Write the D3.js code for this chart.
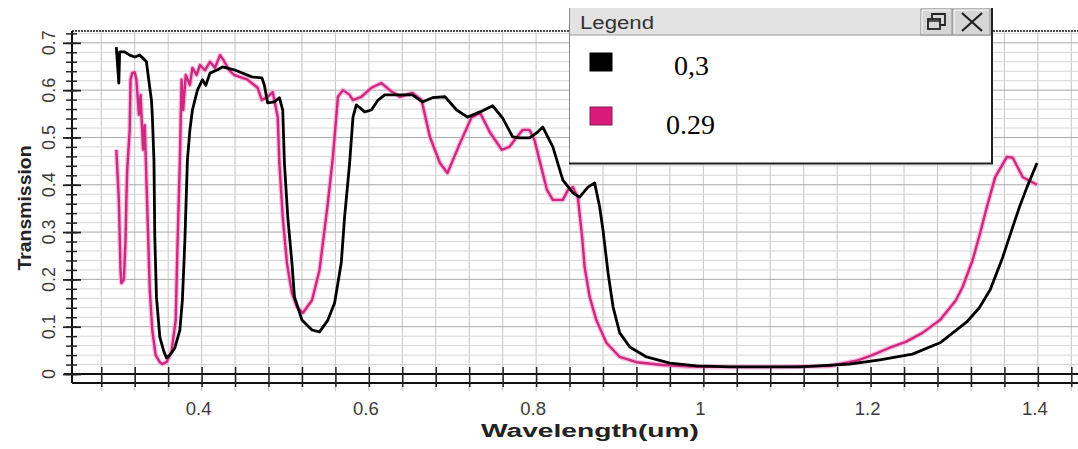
<!DOCTYPE html>
<html>
<head>
<meta charset="utf-8">
<script src="https://cdn.jsdelivr.net/npm/d3@7"></script>
<style>
body{margin:0;background:#fff;}
</style>
</head>
<body>
<svg id="chart"></svg>
<script>
// series 0,3 (black)
var wl03 = [0.298,0.301,0.302,0.308,0.314,0.320,0.326,0.332,0.334,0.338,0.340,0.341,0.343,0.344,0.346,0.350,0.355,0.358,0.362,0.368,
  0.374,0.377,0.380,0.383,0.386,0.389,0.395,0.401,0.405,0.410,0.419,0.425,0.439,0.460,0.472,0.475,0.479,0.487,0.493,0.497,
  0.499,0.503,0.508,0.511,0.520,0.532,0.541,0.551,0.559,0.567,0.571,0.577,0.581,0.585,0.595,0.603,0.611,0.619,0.637,0.652,
  0.664,0.676,0.691,0.705,0.718,0.733,0.748,0.760,0.772,0.780,0.792,0.801,0.808,0.820,0.832,0.844,0.852,0.862,0.870,0.876,
  0.880,0.886,0.892,0.900,0.912,0.932,0.960,0.992,1.032,1.115,1.175,1.211,1.250,1.283,1.315,1.330,1.343,1.358,1.370,1.378,
  1.387,1.399];
var tr03 = [0.691,0.615,0.681,0.681,0.674,0.670,0.674,0.664,0.660,0.605,0.579,0.548,0.452,0.290,0.163,0.078,0.047,0.034,0.040,0.055,
  0.093,0.156,0.283,0.452,0.516,0.558,0.600,0.622,0.610,0.636,0.643,0.649,0.643,0.628,0.626,0.611,0.573,0.575,0.584,0.558,
  0.446,0.332,0.235,0.163,0.114,0.093,0.089,0.114,0.150,0.235,0.332,0.446,0.543,0.569,0.554,0.558,0.579,0.590,0.590,0.590,
  0.575,0.584,0.586,0.558,0.543,0.554,0.567,0.541,0.501,0.499,0.499,0.510,0.522,0.480,0.410,0.383,0.374,0.395,0.404,0.353,
  0.304,0.214,0.142,0.087,0.057,0.036,0.023,0.017,0.015,0.015,0.021,0.030,0.042,0.066,0.110,0.140,0.178,0.247,0.311,0.353,
  0.395,0.446];

// series 0.29 (pink)
var wl029 = [0.298,0.301,0.303,0.304,0.307,0.309,0.310,0.311,0.314,0.315,0.317,0.320,0.322,0.325,0.327,0.330,0.332,0.334,0.338,0.341,
  0.345,0.350,0.353,0.358,0.364,0.369,0.371,0.374,0.376,0.378,0.381,0.386,0.389,0.394,0.398,0.404,0.410,0.416,0.422,0.426,
  0.433,0.439,0.455,0.467,0.472,0.479,0.485,0.491,0.493,0.497,0.502,0.508,0.514,0.521,0.532,0.541,0.551,0.557,0.563,0.569,
  0.577,0.581,0.591,0.603,0.615,0.625,0.637,0.652,0.663,0.673,0.685,0.694,0.709,0.723,0.733,0.745,0.759,0.768,0.777,0.784,
  0.792,0.798,0.804,0.813,0.820,0.832,0.838,0.844,0.850,0.855,0.858,0.864,0.872,0.884,0.900,0.920,0.951,0.992,1.091,1.151,
  1.183,1.202,1.222,1.242,1.262,1.283,1.302,1.310,1.322,1.331,1.339,1.349,1.363,1.370,1.382,1.399];
var tr029 = [0.474,0.368,0.220,0.192,0.199,0.283,0.368,0.431,0.516,0.622,0.636,0.638,0.622,0.548,0.590,0.474,0.526,0.410,0.178,0.093,
  0.040,0.025,0.021,0.025,0.047,0.114,0.262,0.452,0.622,0.558,0.632,0.611,0.647,0.632,0.653,0.642,0.660,0.647,0.674,0.664,
  0.642,0.632,0.622,0.605,0.579,0.586,0.596,0.543,0.446,0.332,0.235,0.171,0.142,0.129,0.156,0.220,0.362,0.459,0.586,0.600,
  0.590,0.579,0.586,0.605,0.615,0.600,0.586,0.594,0.579,0.501,0.446,0.425,0.488,0.543,0.552,0.510,0.474,0.480,0.501,0.516,
  0.516,0.495,0.452,0.389,0.368,0.368,0.389,0.395,0.372,0.290,0.226,0.163,0.114,0.066,0.036,0.025,0.019,0.015,0.015,0.017,
  0.028,0.040,0.055,0.068,0.087,0.114,0.156,0.184,0.241,0.298,0.353,0.416,0.459,0.457,0.416,0.400];

var xTickLabels = [0.4, 0.6, 0.8, 1, 1.2, 1.4];
var yTickLabels = [0, 0.1, 0.2, 0.3, 0.4, 0.5, 0.6, 0.7];
var legendNames = ["0,3", "0.29"];
var legendColors = ["#000000", "#d81b7a"];

var svgwidth = 1078;
var svgheight = 449;

var svg = d3.select('#chart').attr('width', svgwidth).attr('height', svgheight);

var plotLeft = 72, plotRight = 1078, plotTop = 31, plotBottom = 383;

var xScale = d3.scaleLinear().domain([0.245, 1.448]).range([plotLeft, plotRight]);
var yScale = d3.scaleLinear().domain([-0.019, 0.725]).range([plotBottom, plotTop]);

// grid
var xGrid = d3.range(7, 37).map(function(i){ return i * 0.04; });
var yGrid = d3.range(0, 37).map(function(i){ return i * 0.02; });

var grid = svg.append('g').classed('grid', true);
grid.selectAll('line.v').data(xGrid).enter().append('line').attr('class', 'v')
  .attr('x1', function(d){ return xScale(d); }).attr('x2', function(d){ return xScale(d); })
  .attr('y1', plotTop).attr('y2', plotBottom + 8)
  .attr('stroke', '#c6c6c6').attr('stroke-width', 1);
grid.selectAll('line.h').data(yGrid).enter().append('line').attr('class', 'h')
  .attr('x1', plotLeft).attr('x2', plotRight)
  .attr('y1', function(d){ return yScale(d); }).attr('y2', function(d){ return yScale(d); })
  .attr('stroke', function(d, i){ return i % 5 === 0 ? '#a9a9a9' : '#d6d6d6'; })
  .attr('stroke-width', 1);

// top dotted border
svg.append('line').attr('x1', plotLeft).attr('x2', plotRight).attr('y1', plotTop).attr('y2', plotTop)
  .attr('stroke', '#111').attr('stroke-width', 1.3).attr('stroke-dasharray', '2,1');

// curves
var line = d3.line()
  .x(function(d){ return xScale(d[0]); })
  .y(function(d){ return yScale(d[1]); });

var pinkData = wl029.map(function(w, i){ return [w, tr029[i]]; });
var blackData = wl03.map(function(w, i){ return [w, tr03[i]]; });

svg.append('path').datum(pinkData).attr('d', line)
  .attr('fill', 'none').attr('stroke', '#f9a8d6').attr('stroke-width', 5)
  .attr('stroke-linejoin', 'round').attr('opacity', 0.75);
svg.append('path').datum(pinkData).attr('d', line)
  .attr('fill', 'none').attr('stroke', '#cc2a7e').attr('stroke-width', 2.4)
  .attr('stroke-linejoin', 'round');
svg.append('path').datum(blackData).attr('d', line)
  .attr('fill', 'none').attr('stroke', '#000').attr('stroke-width', 2.8)
  .attr('stroke-linejoin', 'round');

// axes
var axes = svg.append('g').classed('axes', true);
axes.append('line').attr('x1', plotLeft).attr('x2', plotLeft).attr('y1', plotTop).attr('y2', plotBottom)
  .attr('stroke', '#111').attr('stroke-width', 2);
axes.append('line').attr('x1', 64).attr('x2', plotRight).attr('y1', yScale(0)).attr('y2', yScale(0))
  .attr('stroke', '#111').attr('stroke-width', 2);
axes.append('line').attr('x1', plotLeft).attr('x2', plotRight).attr('y1', plotBottom).attr('y2', plotBottom)
  .attr('stroke', '#111').attr('stroke-width', 2);

// x ticks
var xTickAxis = d3.axisBottom(xScale).tickValues(xGrid).tickSize(20).tickFormat('');
axes.append('g').attr('transform', 'translate(0,' + (yScale(0) - 7) + ')')
  .call(xTickAxis)
  .call(function(g){ g.select('.domain').remove(); g.selectAll('.tick line').attr('stroke', '#222').attr('stroke-width', 1.5); });

// y ticks (minor + major)
var yMinor = d3.axisLeft(yScale).tickValues(yGrid).tickSize(11).tickFormat('');
axes.append('g').attr('transform', 'translate(' + (plotLeft + 5) + ',0)')
  .call(yMinor)
  .call(function(g){ g.select('.domain').remove(); g.selectAll('.tick line').attr('stroke', '#222').attr('stroke-width', 1.5); });
var yMajor = d3.axisLeft(yScale).tickValues(yTickLabels).tickSize(18).tickFormat('');
axes.append('g').attr('transform', 'translate(' + (plotLeft + 9) + ',0)')
  .call(yMajor)
  .call(function(g){ g.select('.domain').remove(); g.selectAll('.tick line').attr('stroke', '#222').attr('stroke-width', 1.8); });

// tick labels
svg.append('g').selectAll('text').data(xTickLabels).enter().append('text')
  .attr('x', function(d){ return xScale(d) - 3; })
  .attr('y', 415)
  .attr('text-anchor', 'middle')
  .style('font-family', 'Liberation Sans, Arial, sans-serif')
  .style('font-size', '18.5px')
  .attr('fill', '#3c3c3c')
  .text(function(d){ return d; });

svg.append('g').selectAll('text').data(yTickLabels).enter().append('text')
  .attr('transform', function(d){ return 'translate(55,' + yScale(d) + ') rotate(-90)'; })
  .attr('text-anchor', 'middle')
  .style('font-family', 'Liberation Sans, Arial, sans-serif')
  .style('font-size', '18px')
  .attr('fill', '#3c3c3c')
  .text(function(d){ return d; });

// axis titles
svg.append('text')
  .attr('x', 590).attr('y', 437)
  .attr('text-anchor', 'middle')
  .attr('textLength', 218).attr('lengthAdjust', 'spacingAndGlyphs')
  .style('font-family', 'Liberation Sans, Arial, sans-serif')
  .style('font-size', '18px').style('font-weight', 'bold')
  .attr('fill', '#222')
  .text('Wavelength(um)');

svg.append('text')
  .attr('transform', 'translate(31,208) rotate(-90)')
  .attr('text-anchor', 'middle')
  .attr('textLength', 125).attr('lengthAdjust', 'spacingAndGlyphs')
  .style('font-family', 'Liberation Sans, Arial, sans-serif')
  .style('font-size', '18px').style('font-weight', 'bold')
  .attr('fill', '#222')
  .text('Transmission');

// legend window
var lg = svg.append('g').classed('legend', true);
lg.append('rect').attr('x', 569).attr('y', 8).attr('width', 424).attr('height', 156)
  .attr('fill', '#fff').attr('stroke', 'none');
lg.append('rect').attr('x', 569).attr('y', 8).attr('width', 424).attr('height', 27)
  .attr('fill', '#e3e3e3');
lg.append('line').attr('x1', 569).attr('x2', 993).attr('y1', 35).attr('y2', 35)
  .attr('stroke', '#9a9a9a').attr('stroke-width', 1);
lg.append('line').attr('x1', 569.5).attr('x2', 569.5).attr('y1', 8).attr('y2', 164)
  .attr('stroke', '#8a8a8a').attr('stroke-width', 1);
lg.append('line').attr('x1', 992).attr('x2', 992).attr('y1', 8).attr('y2', 164)
  .attr('stroke', '#222').attr('stroke-width', 2);
lg.append('line').attr('x1', 569).attr('x2', 993).attr('y1', 163.5).attr('y2', 163.5)
  .attr('stroke', '#222').attr('stroke-width', 2);
lg.append('text').attr('x', 580).attr('y', 29)
  .attr('textLength', 74).attr('lengthAdjust', 'spacingAndGlyphs')
  .style('font-family', 'Liberation Sans, Arial, sans-serif')
  .style('font-size', '18px').attr('fill', '#333')
  .text('Legend');

// title bar buttons
var btns = [[921, 31], [953, 37]];
btns.forEach(function(b){
  lg.append('rect').attr('x', b[0]).attr('y', 9).attr('width', b[1]).attr('height', 26)
    .attr('fill', '#d6d6d6').attr('stroke', '#8c8c8c').attr('stroke-width', 1);
  lg.append('line').attr('x1', b[0] + 1).attr('x2', b[0] + b[1] - 1).attr('y1', 10).attr('y2', 10)
    .attr('stroke', '#fff').attr('stroke-width', 1);
  lg.append('line').attr('x1', b[0] + 1).attr('x2', b[0] + 1).attr('y1', 10).attr('y2', 34)
    .attr('stroke', '#fff').attr('stroke-width', 1);
});
// restore icon
lg.append('rect').attr('x', 928).attr('y', 19).attr('width', 12).attr('height', 10)
  .attr('fill', 'none').attr('stroke', '#222').attr('stroke-width', 1.8);
lg.append('path').attr('d', 'M932,19 V14 H945 V25 H940')
  .attr('fill', 'none').attr('stroke', '#222').attr('stroke-width', 1.8);
lg.append('line').attr('x1', 928).attr('x2', 940).attr('y1', 21).attr('y2', 21)
  .attr('stroke', '#222').attr('stroke-width', 1.5);
// close icon
lg.append('path').attr('d', 'M962,13 L982,31 M982,13 L962,31')
  .attr('fill', 'none').attr('stroke', '#222').attr('stroke-width', 2.2);

var legendRowY = [53, 107];
var legendTextX = [674, 666];
var legendTextY = [75, 134];
legendNames.forEach(function(name, i){
  lg.append('rect').attr('x', 590).attr('y', legendRowY[i]).attr('width', 22).attr('height', 18)
    .attr('fill', legendColors[i]).attr('stroke', i === 0 ? '#000' : '#8a1a50').attr('stroke-width', 1);
  lg.append('text').attr('x', legendTextX[i]).attr('y', legendTextY[i])
    .style('font-family', 'Liberation Serif, Times New Roman, serif')
    .style('font-size', '28px').attr('fill', '#000')
    .text(name);
});
</script>
</body>
</html>
